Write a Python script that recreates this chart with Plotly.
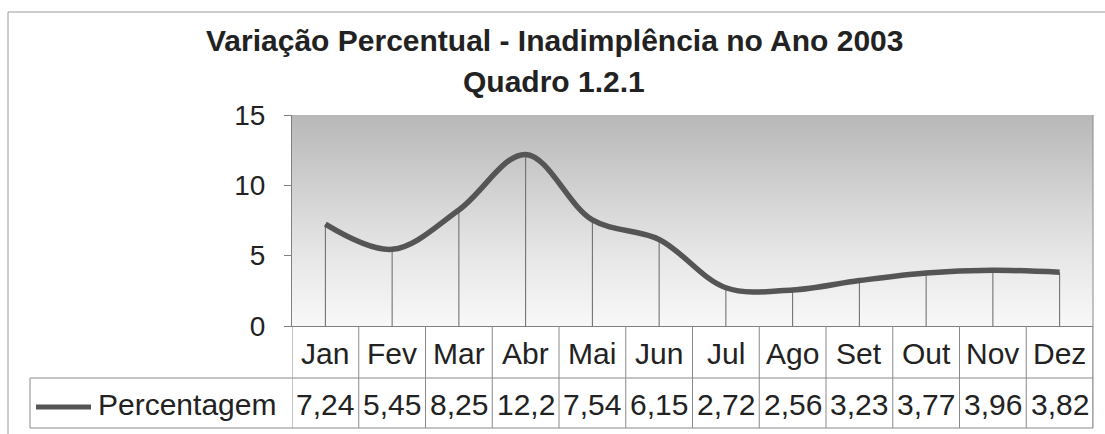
import numpy as np
import plotly.graph_objects as go

months = ["Jan", "Fev", "Mar", "Abr", "Mai", "Jun", "Jul", "Ago", "Set", "Out", "Nov", "Dez"]
values = [7.24, 5.45, 8.25, 12.2, 7.54, 6.15, 2.72, 2.56, 3.23, 3.77, 3.96, 3.82]
series_name = "Percentagem"
y_ticks = [0, 5, 10, 15]
title_1 = "Variação Percentual - Inadimplência no Ano 2003"
title_2 = "Quadro 1.2.1"

W, H = 1105, 434
def px(x): return x / W
def py(y): return 1 - y / H

FONT = "Liberation Sans, Arial, sans-serif"
TXT = "#222222"
LINE = "#555555"
GRID = "#808080"
BORDER = "#8a8a8a"

idx = list(range(len(months)))
fig = go.Figure()

# gradient background of the plot area
ys = np.linspace(0, 15, 61)
fig.add_trace(go.Heatmap(
    x=[-0.5, 11.5], y=ys, z=[[v, v] for v in ys],
    colorscale=[[0, "#f8f8f8"], [0.35, "#e6e6e6"], [1, "#b8b8b8"]],
    showscale=False, hoverinfo="skip", zsmooth="best"))

# drop lines
fig.add_trace(go.Scatter(
    x=idx, y=values, mode="markers", marker=dict(size=0.1, color="rgba(0,0,0,0)"),
    error_y=dict(type="data", symmetric=False, array=[0] * len(values),
                 arrayminus=values, width=0, thickness=1, color="#666666"),
    showlegend=False, hoverinfo="skip"))

# main smoothed line
fig.add_trace(go.Scatter(
    x=idx, y=values, mode="lines", name=series_name,
    line=dict(color=LINE, width=5.5, shape="spline", smoothing=1.0),
    showlegend=False))

x0, x1 = 292, 1093
y_axis0, y_row1, y_row2 = 326, 378, 428

fig.update_layout(
    width=W, height=H, margin=dict(l=0, r=0, t=0, b=0, pad=0, autoexpand=False),
    paper_bgcolor="white", plot_bgcolor="white",
    font=dict(family=FONT, color=TXT),
    xaxis=dict(domain=[px(x0), px(x1)], range=[-0.5, 11.5], showgrid=False,
               zeroline=False, showticklabels=False, ticks="", automargin=False,
               showline=True, linecolor=GRID, linewidth=1),
    yaxis=dict(domain=[py(y_axis0), py(115)], range=[0, 15], tickvals=y_ticks,
               showgrid=True, gridcolor=GRID, gridwidth=1, zeroline=False,
               showline=True, linecolor=GRID, linewidth=1, mirror=False,
               ticks="outside", ticklen=7, tickcolor=GRID, automargin=False,
               ticklabelstandoff=13,
               tickfont=dict(family=FONT, size=28, color=TXT)),
    showlegend=False,
)

shapes = []
# outer frame
shapes.append(dict(type="rect", xref="paper", yref="paper",
                   x0=px(8), x1=px(1112), y0=py(445), y1=py(12),
                   line=dict(color="#9a9a9a", width=1), layer="above"))
# plot right border
shapes.append(dict(type="line", xref="paper", yref="paper",
                   x0=px(x1), x1=px(x1), y0=py(115), y1=py(y_row2),
                   line=dict(color=BORDER, width=1)))
# table horizontal lines
for yy in (y_row1, y_row2):
    shapes.append(dict(type="line", xref="paper", yref="paper",
                       x0=px(30), x1=px(x1), y0=py(yy), y1=py(yy),
                       line=dict(color=BORDER, width=1)))
# column boundaries
for k in range(len(months) + 1):
    shapes.append(dict(type="line", xref="x", yref="paper",
                       x0=k - 0.5, x1=k - 0.5, y0=py(y_axis0), y1=py(y_row2),
                       line=dict(color=BORDER, width=1)))
# legend cell left border
shapes.append(dict(type="line", xref="paper", yref="paper",
                   x0=px(30), x1=px(30), y0=py(y_row1), y1=py(y_row2),
                   line=dict(color=BORDER, width=1)))
# legend sample line
shapes.append(dict(type="line", xref="paper", yref="paper",
                   x0=px(36), x1=px(91), y0=py(407), y1=py(407),
                   line=dict(color=LINE, width=5)))

annotations = []
annotations.append(dict(text="<b>" + title_1 + "</b>", xref="paper", yref="paper",
                        x=px(554), y=py(41), showarrow=False, xanchor="center",
                        yanchor="middle", font=dict(family=FONT, size=30, color=TXT)))
annotations.append(dict(text="<b>" + title_2 + "</b>", xref="paper", yref="paper",
                        x=px(554), y=py(81), showarrow=False, xanchor="center",
                        yanchor="middle", font=dict(family=FONT, size=30, color=TXT)))
for i, m in enumerate(months):
    annotations.append(dict(text=m, xref="x", yref="paper", x=i, y=py(353),
                            showarrow=False, xanchor="center", yanchor="middle",
                            font=dict(family=FONT, size=30, color=TXT)))
    annotations.append(dict(text=f"{values[i]:g}".replace(".", ","), xref="x",
                            yref="paper", x=i, y=py(404), showarrow=False,
                            xanchor="center", yanchor="middle",
                            font=dict(family=FONT, size=30, color=TXT)))
annotations.append(dict(text=series_name, xref="paper", yref="paper",
                        x=px(96), y=py(404), showarrow=False, xanchor="left",
                        yanchor="middle", font=dict(family=FONT, size=30, color=TXT)))

fig.update_layout(shapes=shapes, annotations=annotations)
fig.write_html("out.html", config={"displayModeBar": False},
               post_script="document.body.style.margin='0';document.body.style.overflow='hidden';")
